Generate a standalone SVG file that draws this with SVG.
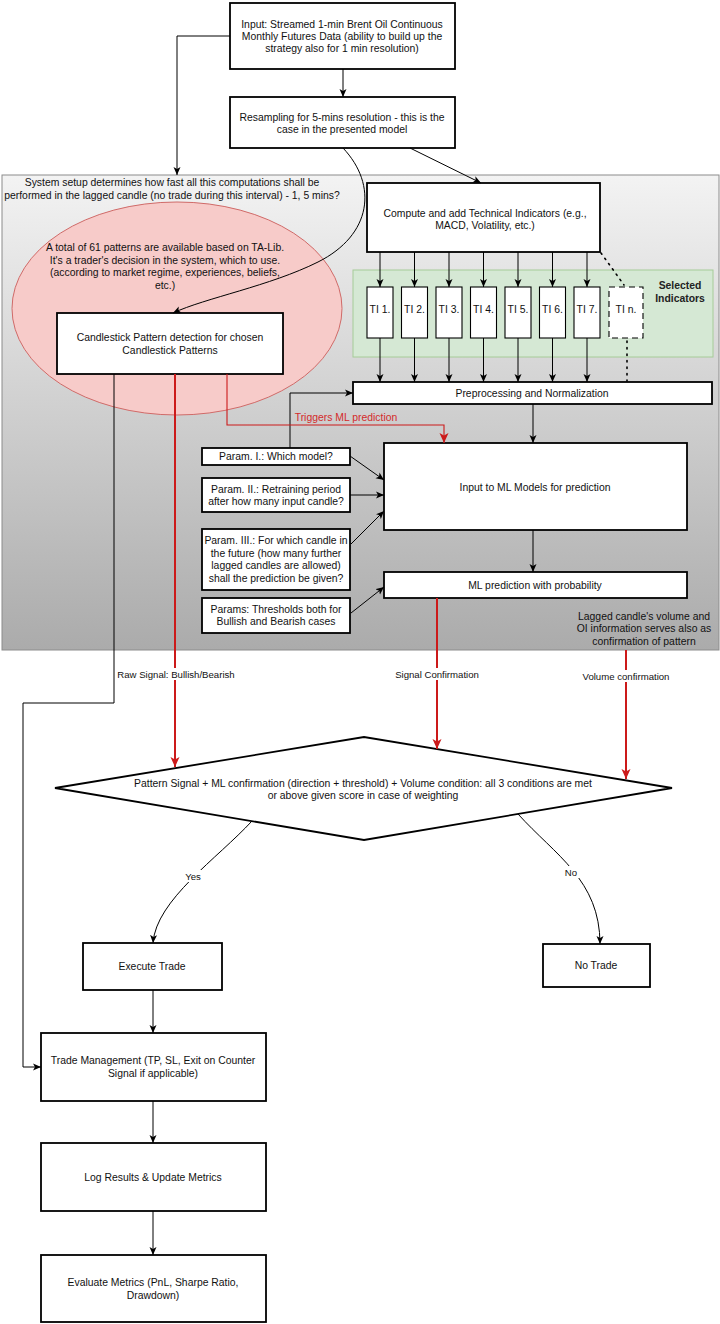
<svg xmlns="http://www.w3.org/2000/svg" width="720" height="1324" viewBox="0 0 720 1324">
<style>
.box{fill:#fff;stroke:#000;stroke-width:1.8}
.tib{fill:#fff;stroke:#000;stroke-width:1.1}
.t{font-family:"Liberation Sans",Arial,Helvetica,sans-serif;font-size:10.4px;fill:#111;text-anchor:middle}
.lbl{font-size:9.6px}
.b{font-weight:bold;fill:#222}
.rt{fill:#d42a2a}
.e{fill:none;stroke:#000;stroke-width:1}
.r{fill:none;stroke:#cc1a1a;stroke-width:2}
.rthin{fill:none;stroke:#cc1a1a;stroke-width:1.1}
.dot{fill:none;stroke:#000;stroke-width:1.6;stroke-dasharray:1.5 5;stroke-linecap:round}
</style>
<defs>
<linearGradient id="g" x1="0" y1="0" x2="0" y2="1">
<stop offset="0" stop-color="#f3f3f3"/>
<stop offset="1" stop-color="#ababab"/>
</linearGradient>
<marker id="a" markerWidth="9" markerHeight="8" refX="8" refY="4" orient="auto" markerUnits="userSpaceOnUse">
<path d="M0,0.5 L8,4 L0,7.5 L2,4 z" fill="#000"/>
</marker>
<marker id="ar" markerWidth="11" markerHeight="10" refX="10" refY="5" orient="auto" markerUnits="userSpaceOnUse">
<path d="M0,0.5 L10,5 L0,9.5 L2.5,5 z" fill="#cc1a1a"/>
</marker>
</defs>
<rect width="720" height="1324" fill="#fff"/>

<g id="system-region">
<rect x="2" y="175" width="717" height="475" fill="url(#g)" stroke="#8c8c8c" stroke-width="1"/>
<text class="t" x="172" y="185.5">System setup determines how fast all this computations shall be</text>
<text class="t" x="172" y="198.5">performed in the lagged candle (no trade during this interval) - 1, 5 mins?</text>
</g>

<g id="pattern-ellipse">
<ellipse cx="177" cy="308.5" rx="165" ry="106.5" fill="#f7cbc9" stroke="#d06a68" stroke-width="1"/>
<text class="t" x="165" y="250.5">A total of 61 patterns are available based on TA-Lib.</text>
<text class="t" x="165" y="263.5">It's a trader's decision in the system, which to use.</text>
<text class="t" x="165" y="275.5">(according to market regime, experiences, beliefs,</text>
<text class="t" x="165" y="288.5">etc.)</text>
</g>

<g id="selected-indicators">
<rect x="353" y="270" width="360" height="87" fill="#d5e8d4" stroke="#a6cc98" stroke-width="1"/>
<text class="t b" x="680" y="288.5">Selected</text>
<text class="t b" x="680" y="301.5">Indicators</text>
</g>

<g id="input">
<rect class="box" x="230" y="3" width="225" height="66"/>
<text class="t" x="342" y="27.5">Input: Streamed 1-min Brent Oil Continuous</text>
<text class="t" x="342" y="39.5">Monthly Futures Data (ability to build up the</text>
<text class="t" x="342" y="51.5">strategy also for 1 min resolution)</text>
</g>

<g id="resampling">
<rect class="box" x="230" y="97" width="225" height="51"/>
<text class="t" x="342" y="120.5">Resampling for 5-mins resolution - this is the</text>
<text class="t" x="342" y="133">case in the presented model</text>
</g>

<g id="compute-ti">
<rect class="box" x="367" y="183" width="233" height="69"/>
<text class="t" x="485" y="216.5">Compute and add Technical Indicators (e.g.,</text>
<text class="t" x="485" y="229">MACD, Volatility, etc.)</text>
</g>

<g id="candlestick">
<rect class="box" x="57" y="313" width="226" height="61"/>
<text class="t" x="170" y="340.5">Candlestick Pattern detection for chosen</text>
<text class="t" x="170" y="353.5">Candlestick Patterns</text>
</g>

<g id="ti1"><rect class="tib" x="367" y="287" width="26" height="51"/><text class="t" x="380" y="312.5">TI 1.</text></g>
<g id="ti2"><rect class="tib" x="401.5" y="287" width="26" height="51"/><text class="t" x="414.5" y="312.5">TI 2.</text></g>
<g id="ti3"><rect class="tib" x="436" y="287" width="26" height="51"/><text class="t" x="449" y="312.5">TI 3.</text></g>
<g id="ti4"><rect class="tib" x="470.5" y="287" width="26" height="51"/><text class="t" x="483.5" y="312.5">TI 4.</text></g>
<g id="ti5"><rect class="tib" x="505" y="287" width="26" height="51"/><text class="t" x="518" y="312.5">TI 5.</text></g>
<g id="ti6"><rect class="tib" x="539.5" y="287" width="26" height="51"/><text class="t" x="552.5" y="312.5">TI 6.</text></g>
<g id="ti7"><rect class="tib" x="574" y="287" width="26" height="51"/><text class="t" x="587" y="312.5">TI 7.</text></g>
<g id="tin"><rect x="609" y="287" width="34" height="51" fill="#fff" stroke="#000" stroke-width="1.1" stroke-dasharray="6 4"/><text class="t" x="626" y="312.5">TI n.</text></g>

<g id="preprocessing">
<rect class="box" x="353" y="382" width="359" height="22"/>
<text class="t" x="532" y="396.5">Preprocessing and Normalization</text>
</g>

<g id="ml-input">
<rect class="box" x="384" y="443" width="303" height="87"/>
<text class="t" x="535" y="490.5">Input to ML Models for prediction</text>
</g>

<g id="ml-prediction">
<rect class="box" x="384" y="572" width="303" height="26"/>
<text class="t" x="535" y="588.5">ML prediction with probability</text>
</g>

<g id="param1">
<rect class="box" x="202" y="448" width="148" height="17"/>
<text class="t" x="276" y="460">Param. I.: Which model?</text>
</g>
<g id="param2">
<rect class="box" x="202" y="478" width="148" height="34"/>
<text class="t" x="276" y="492.5">Param. II.: Retraining period</text>
<text class="t" x="276" y="504.5">after how many input candle?</text>
</g>
<g id="param3">
<rect class="box" x="202" y="529" width="148" height="61"/>
<text class="t" x="276" y="544">Param. III.: For which candle in</text>
<text class="t" x="276" y="556.5">the future (how many further</text>
<text class="t" x="276" y="569">lagged candles are allowed)</text>
<text class="t" x="276" y="581.5">shall the prediction be given?</text>
</g>
<g id="params">
<rect class="box" x="202" y="598" width="148" height="35"/>
<text class="t" x="276" y="612.5">Params: Thresholds both for</text>
<text class="t" x="276" y="625">Bullish and Bearish cases</text>
</g>

<g id="volume-note">
<text class="t" x="644" y="619.5">Lagged candle's volume and</text>
<text class="t" x="644" y="632">OI information serves also as</text>
<text class="t" x="644" y="644.5">confirmation of pattern</text>
</g>

<g id="decision">
<polygon points="55,788 364,737 672,788 364,840" fill="#fff" stroke="#000" stroke-width="1.8"/>
<text class="t" x="363" y="786.5">Pattern Signal + ML confirmation (direction + threshold) + Volume condition: all 3 conditions are met</text>
<text class="t" x="363" y="799">or above given score in case of weighting</text>
</g>

<g id="execute">
<rect class="box" x="83" y="943" width="139" height="47"/>
<text class="t" x="152" y="970">Execute Trade</text>
</g>
<g id="no-trade">
<rect class="box" x="543" y="944" width="107" height="43"/>
<text class="t" x="596" y="969">No Trade</text>
</g>
<g id="trade-management">
<rect class="box" x="41" y="1033" width="225" height="68"/>
<text class="t" x="153" y="1063.5">Trade Management (TP, SL, Exit on Counter</text>
<text class="t" x="153" y="1076.5">Signal if applicable)</text>
</g>
<g id="log-results">
<rect class="box" x="41" y="1143" width="225" height="68"/>
<text class="t" x="153" y="1180.5">Log Results &amp; Update Metrics</text>
</g>
<g id="evaluate">
<rect class="box" x="41" y="1255" width="225" height="67"/>
<text class="t" x="153" y="1285.5">Evaluate Metrics (PnL, Sharpe Ratio,</text>
<text class="t" x="153" y="1298.5">Drawdown)</text>
</g>

<g id="connectors">
<path class="e" d="M343,69 V97" marker-end="url(#a)"/>
<path class="e" d="M230,36 H177 V175" marker-end="url(#a)"/>
<path class="e" d="M410,148 L481,183" marker-end="url(#a)"/>
<path class="e" d="M343,148 C378,185 372,235 318,262 C270,286 205,298 173,313" marker-end="url(#a)"/>
<path class="e" d="M380,252 V287" marker-end="url(#a)"/>
<path class="e" d="M414.5,252 V287" marker-end="url(#a)"/>
<path class="e" d="M449,252 V287" marker-end="url(#a)"/>
<path class="e" d="M483.5,252 V287" marker-end="url(#a)"/>
<path class="e" d="M518,252 V287" marker-end="url(#a)"/>
<path class="e" d="M552.5,252 V287" marker-end="url(#a)"/>
<path class="e" d="M587,252 V287" marker-end="url(#a)"/>
<path class="dot" d="M601,253 L624,285"/>
<path class="e" d="M380,338 V382" marker-end="url(#a)"/>
<path class="e" d="M414.5,338 V382" marker-end="url(#a)"/>
<path class="e" d="M449,338 V382" marker-end="url(#a)"/>
<path class="e" d="M483.5,338 V382" marker-end="url(#a)"/>
<path class="e" d="M518,338 V382" marker-end="url(#a)"/>
<path class="e" d="M552.5,338 V382" marker-end="url(#a)"/>
<path class="e" d="M587,338 V382" marker-end="url(#a)"/>
<path class="dot" d="M627,341 V381"/>
<path class="e" d="M290,448 V393 H353" marker-end="url(#a)"/>
<path class="e" d="M533,404 V443" marker-end="url(#a)"/>
<path class="rthin" d="M227,374 V425 H444 V443" marker-end="url(#ar)"/>
<text class="t rt" x="346" y="420.5">Triggers ML prediction</text>
<path class="e" d="M350,456 L384,480" marker-end="url(#a)"/>
<path class="e" d="M350,495 H384" marker-end="url(#a)"/>
<path class="e" d="M351,544 L384,511" marker-end="url(#a)"/>
<path class="e" d="M351,613 L384,587" marker-end="url(#a)"/>
<path class="e" d="M533,530 V572" marker-end="url(#a)"/>
<path class="e" d="M114,374 V703 H23 V1067 H41" marker-end="url(#a)"/>
<path class="r" d="M175,374 V767" marker-end="url(#ar)"/>
<rect x="117" y="668" width="118" height="12" fill="#fff"/>
<text class="t lbl" x="176" y="677.5">Raw Signal: Bullish/Bearish</text>
<path class="r" d="M437,598 V749" marker-end="url(#ar)"/>
<rect x="395" y="668" width="84" height="12" fill="#fff"/>
<text class="t lbl" x="437" y="677.5">Signal Confirmation</text>
<path class="r" d="M626,650 V779" marker-end="url(#ar)"/>
<rect x="582" y="670" width="88" height="12" fill="#fff"/>
<text class="t lbl" x="626" y="679.5">Volume confirmation</text>
<path class="e" d="M252,821 C218,858 156,900 153,943" marker-end="url(#a)"/>
<rect x="183" y="870" width="20" height="12" fill="#fff"/>
<text class="t lbl" x="193" y="880">Yes</text>
<path class="e" d="M518,814 C555,855 600,880 600,944" marker-end="url(#a)"/>
<rect x="563" y="866" width="16" height="12" fill="#fff"/>
<text class="t lbl" x="571" y="876">No</text>
<path class="e" d="M153,990 V1033" marker-end="url(#a)"/>
<path class="e" d="M153,1101 V1143" marker-end="url(#a)"/>
<path class="e" d="M153,1211 V1255" marker-end="url(#a)"/>
</g>
</svg>
